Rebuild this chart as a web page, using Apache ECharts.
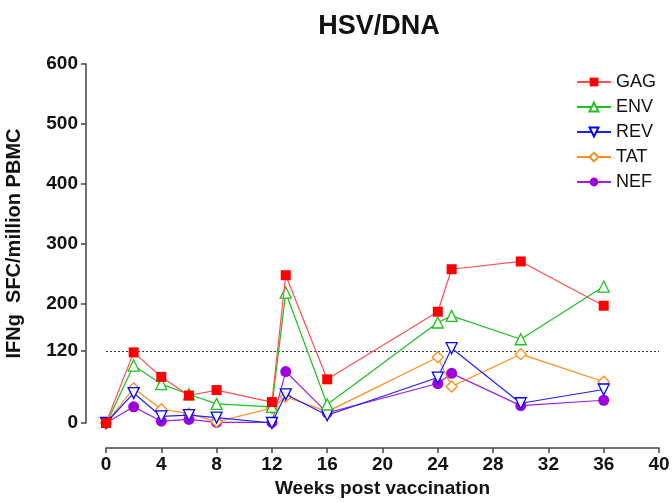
<!DOCTYPE html>
<html>
<head>
<meta charset="utf-8">
<script src="https://cdn.jsdelivr.net/npm/echarts@6/dist/echarts.min.js"></script>
<style>
  html,body{margin:0;padding:0;background:#fff;}
  #main{width:672px;height:502px;}
</style>
</head>
<body>
<div id="main"></div>
<script>
// weeks post vaccination
var weeks = [0, 2, 4, 6, 8, 12, 13, 16, 24, 25, 30, 36];

var gag = [0, 118, 77, 46, 55, 35, 247, 73, 186, 257, 270, 196];
var env = [-2, 96, 65, 48, 32, 27, 218, 31, 168, 179, 140, 228];
var rev = [0, 50, 11, 13, 9, 0, 48, 13, 76, 125, 33, 56];
var tat = [0, 58, 23, 16, 2, 25, 44, 19, 110, 61, 115, 69];
var nef = [0, 27, 3, 6, 1, 1, 86, 17, 66, 83, 29, 38];

var yTicks = [0, 120, 200, 300, 400, 500, 600];
var cutoff = 120;

var font = 'Liberation Sans, Arial, sans-serif';

function pairs(vals){
    return weeks.map(function(w, i){ return [w, vals[i]]; });
}

var heads = [
    {name:'GAG', data:gag, color:'#ff0000', line:'#ff5050', symbol:'rect', size:10, fill:true},
    {name:'ENV', data:env, color:'#1fbf1f', line:'#1fbf1f', symbol:'triangle', size:11, fill:false},
    {name:'REV', data:rev, color:'#0000ff', line:'#2020ff', symbol:'path://M0,0 L10,0 L5,10 Z', size:11, fill:false},
    {name:'TAT', data:tat, color:'#ff8c1a', line:'#ff8c1a', symbol:'diamond', size:11, fill:false},
    {name:'NEF', data:nef, color:'#a000e0', line:'#a020e0', symbol:'circle', size:11, fill:true}
];

var series = heads.map(function(head, i){
    var s = {
        name: head.name,
        type: 'line',
        data: pairs(head.data),
        symbol: head.symbol,
        symbolSize: head.size,
        showAllSymbol: true,
        z: 10 - i,
        lineStyle: {color: head.line, width: 1.2},
        itemStyle: {
            color: head.fill ? head.color : '#ffffff',
            borderColor: head.color,
            borderWidth: head.fill ? 0 : 1.3
        },
        emphasis: {disabled: true}
    };
    if (i === 0) {
        // dotted cut-off line
        s.markLine = {
            silent: true,
            symbol: 'none',
            label: {show: false},
            lineStyle: {color: '#333', type: [2, 2], width: 1},
            data: [{yAxis: cutoff}]
        };
    }
    return s;
});

var myChart = echarts.init(document.getElementById('main'));
var option = {
    backgroundColor: '#fff',
    animation: false,
    title: {
        text: 'HSV/DNA',
        left: 374,
        textAlign: 'center',
        top: 8,
        textStyle: {fontFamily: font, fontSize: 27, fontWeight: 'bold', color: '#111'}
    },
    legend: {
        orient: 'vertical',
        right: 11,
        top: 68,
        itemWidth: 34,
        itemHeight: 11,
        itemGap: 7,
        textStyle: {fontFamily: font, fontSize: 18, color: '#111'},
        data: heads.map(function(h){ return h.name; })
    },
    grid: {left: 106, right: 13, top: 64, bottom: 79, outerBoundsMode: 'none', containLabel: false},
    xAxis: {
        type: 'value',
        min: 0,
        max: 40,
        interval: 4,
        offset: 25,
        name: 'Weeks post vaccination',
        nameLocation: 'middle',
        nameGap: 30,
        nameTextStyle: {fontFamily: font, fontSize: 19, fontWeight: 'bold', color: '#111'},
        axisLine: {onZero: false, lineStyle: {color: '#444', width: 1.5}},
        axisTick: {length: 5, lineStyle: {color: '#444', width: 1.5}},
        axisLabel: {fontFamily: font, fontSize: 19, fontWeight: 'bold', color: '#111', margin: 7},
        splitLine: {show: false}
    },
    yAxis: {
        type: 'value',
        min: 0,
        max: 600,
        offset: 20,
        name: 'IFNg  SFC/million PBMC',
        nameLocation: 'middle',
        nameGap: 62,
        nameTextStyle: {fontFamily: font, fontSize: 20, fontWeight: 'bold', color: '#111'},
        axisLine: {show: true, onZero: false, lineStyle: {color: '#444', width: 1.5}},
        axisTick: {show: true, length: 5, customValues: yTicks, lineStyle: {color: '#444', width: 1.5}},
        axisLabel: {fontFamily: font, fontSize: 19, fontWeight: 'bold', color: '#111', margin: 8, customValues: yTicks},
        splitLine: {show: false}
    },
    series: series
};
myChart.setOption(option);
</script>
</body>
</html>
